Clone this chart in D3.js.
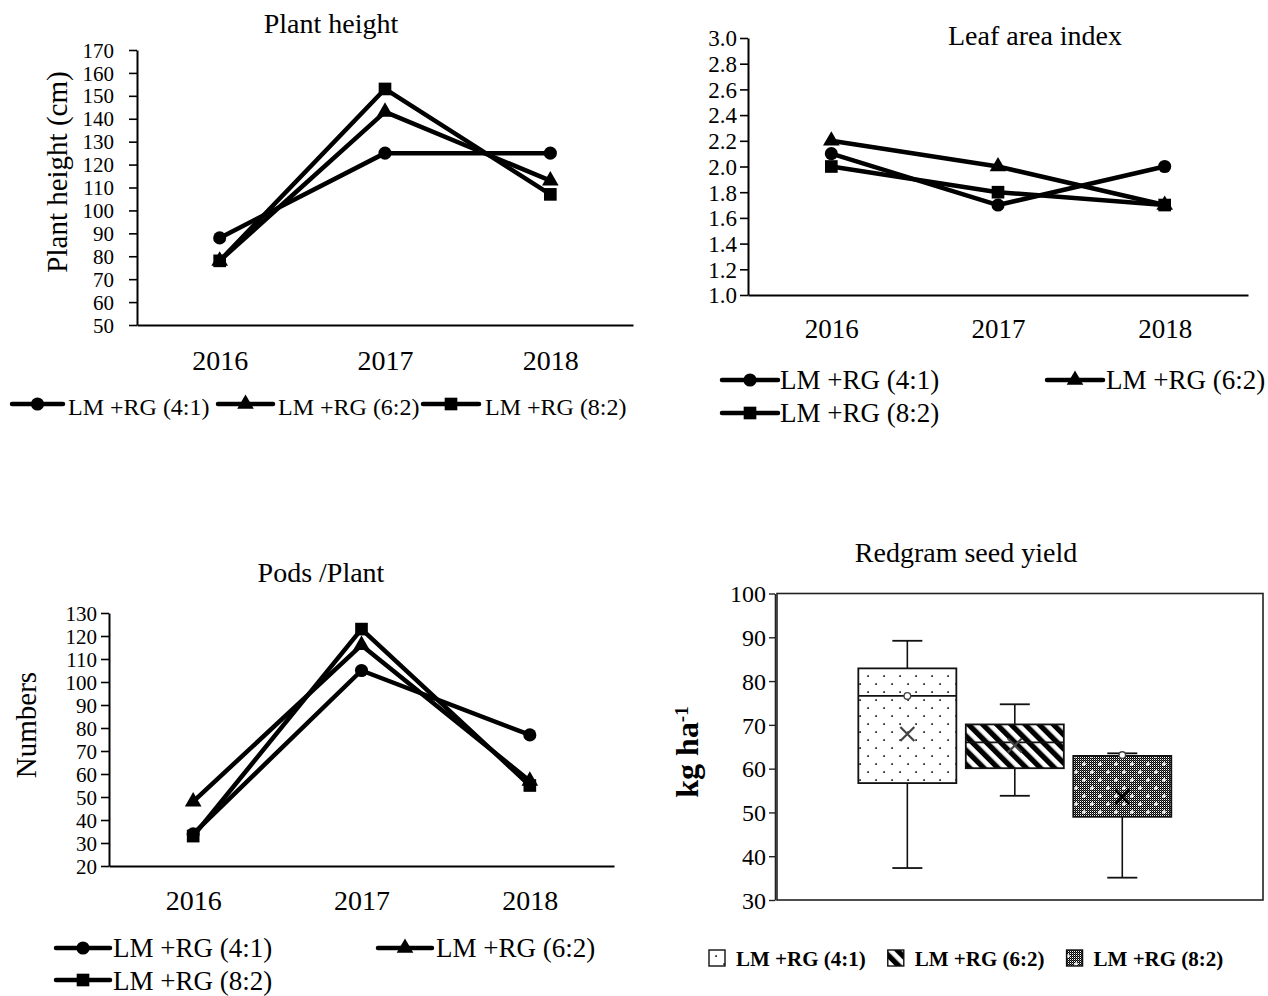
<!DOCTYPE html>
<html><head><meta charset="utf-8">
<script src="https://cdn.jsdelivr.net/npm/d3@7"></script>
<style>
body{margin:0;background:#fff}
svg{display:block}
text{font-family:"Liberation Serif","Times New Roman","DejaVu Serif",serif;fill:#000}
</style>
</head><body>
<svg id="c" width="1268" height="996"></svg>
<script>
// ---------- DATA ----------
const years = ["2016", "2017", "2018"];
const seriesNames = ["LM +RG (4:1)", "LM +RG (6:2)", "LM +RG (8:2)"];

const plantHeight41 = [88, 125, 125];
const plantHeight62 = [78, 143, 113];
const plantHeight82 = [78, 153, 107];
const plantHeightTicks = [50, 60, 70, 80, 90, 100, 110, 120, 130, 140, 150, 160, 170];

const lai41 = [2.1, 1.7, 2.0];
const lai62 = [2.2, 2.0, 1.7];
const lai82 = [2.0, 1.8, 1.7];
const laiTicks = [1.0, 1.2, 1.4, 1.6, 1.8, 2.0, 2.2, 2.4, 2.6, 2.8, 3.0];

const pods41 = [34, 105, 77];
const pods62 = [48, 116, 57];
const pods82 = [33, 123, 55];
const podsTicks = [20, 30, 40, 50, 60, 70, 80, 90, 100, 110, 120, 130];

// Redgram seed yield box plot (kg/ha)
const yieldMin    = [37.3, 53.8, 35.1];
const yieldQ1     = [56.7, 60.1, 49.0];
const yieldMedian = [76.6, 66.0, 62.9];
const yieldQ3     = [82.9, 70.1, 62.9];
const yieldMax    = [89.2, 74.7, 63.5];
const yieldMean   = [67.9, 65.3, 53.6];
const yieldPoints = [[76.6], [], [63.1]];
const yieldTicks  = [30, 40, 50, 60, 70, 80, 90, 100];

// ---------- DRAWING ----------
const svg = d3.select("#c");
const defs = svg.append("defs");

// dotted pattern (4:1)
const pDots = defs.append("pattern").attr("id", "pDots").attr("patternUnits", "userSpaceOnUse")
  .attr("width", 16).attr("height", 16);
pDots.append("rect").attr("width", 16).attr("height", 16).attr("fill", "#fff");
pDots.append("rect").attr("x", 3.3).attr("y", 3.3).attr("width", 1.6).attr("height", 1.6).attr("fill", "#000");
pDots.append("rect").attr("x", 11.3).attr("y", 11.3).attr("width", 1.6).attr("height", 1.6).attr("fill", "#000");

// diagonal stripes (6:2)
const pStr = defs.append("pattern").attr("id", "pStripes").attr("patternUnits", "userSpaceOnUse")
  .attr("width", 10).attr("height", 10).attr("patternTransform", "rotate(-45)");
pStr.append("rect").attr("width", 10).attr("height", 10).attr("fill", "#fff");
pStr.append("rect").attr("width", 5.3).attr("height", 10).attr("fill", "#000");

// dense checker with white crosses (8:2)
const pChk = defs.append("pattern").attr("id", "pChk").attr("patternUnits", "userSpaceOnUse")
  .attr("width", 2).attr("height", 2);
pChk.append("rect").attr("width", 2).attr("height", 2).attr("fill", "#fff");
pChk.append("rect").attr("width", 1).attr("height", 1).attr("fill", "#000");
pChk.append("rect").attr("x", 1).attr("y", 1).attr("width", 1).attr("height", 1).attr("fill", "#000");
pChk.append("rect").attr("x", 1).attr("y", 0).attr("width", 1).attr("height", 1).attr("fill", "#555");
const pDense = defs.append("pattern").attr("id", "pDense").attr("patternUnits", "userSpaceOnUse")
  .attr("width", 16).attr("height", 16);
pDense.append("rect").attr("width", 16).attr("height", 16).attr("fill", "url(#pChk)");
[[4, 4], [12, 12]].forEach(([cx, cy]) => {
  pDense.append("rect").attr("x", cx - 2).attr("y", cy - 0.6).attr("width", 4).attr("height", 1.4).attr("fill", "#fff");
  pDense.append("rect").attr("x", cx - 0.6).attr("y", cy - 2).attr("width", 1.4).attr("height", 4).attr("fill", "#fff");
});

const markerTypes = [d3.symbolCircle, d3.symbolTriangle, d3.symbolSquare];
const markerSizes = [135, 120, 160];

function lineChart(o) {
  const g = svg.append("g");
  const x = d3.scalePoint().domain(years).range([o.x0, o.x1]).padding(0.5);
  const y = d3.scaleLinear().domain(o.domain).range([o.yBot, o.yTop]);

  const ya = g.append("g").attr("transform", `translate(${o.x0},0)`)
    .call(d3.axisLeft(y).tickValues(o.ticks).tickFormat(o.fmt)
      .tickSizeInner(8).tickSizeOuter(0).tickPadding(o.tickPad));
  ya.select(".domain").attr("stroke-width", 2);
  ya.selectAll(".tick line").attr("stroke-width", 1.6);
  ya.selectAll(".tick text").attr("font-size", o.tickSize).attr("font-family", null).attr("dy", "0.34em");

  const xa = g.append("g").attr("transform", `translate(0,${o.yBot})`)
    .call(d3.axisBottom(x).tickSize(0).tickSizeOuter(0));
  xa.select(".domain").attr("stroke-width", 2);
  xa.selectAll(".tick text").attr("font-size", o.xlabSize).attr("font-family", null)
    .attr("dy", null).attr("y", o.xlabDy);

  const line = d3.line().x((d, i) => x(years[i])).y(d => y(d));
  o.series.forEach((s, k) => {
    g.append("path").datum(s).attr("d", line).attr("fill", "none")
      .attr("stroke", "#000").attr("stroke-width", 4.5).attr("stroke-linejoin", "round");
  });
  o.series.forEach((s, k) => {
    g.selectAll(null).data(s).enter().append("path")
      .attr("d", d3.symbol().type(markerTypes[k]).size(markerSizes[k]))
      .attr("transform", (d, i) => `translate(${x(years[i])},${y(d)})`)
      .attr("fill", "#000");
  });

  g.append("text").attr("x", o.titleX).attr("y", o.titleY).attr("text-anchor", "middle")
    .attr("font-size", o.titleSize).text(o.title);
  if (o.ylabel) {
    g.append("text").attr("transform", `translate(${o.ylabX},${o.ylabY}) rotate(-90)`)
      .attr("text-anchor", "middle").attr("dominant-baseline", "central")
      .attr("font-size", o.ylabSize).text(o.ylabel);
  }
  o.legend.forEach((L, k) => {
    g.append("line").attr("x1", L.lx).attr("x2", L.lx + L.len).attr("y1", L.ly).attr("y2", L.ly)
      .attr("stroke", "#000").attr("stroke-width", 4.5).attr("stroke-linecap", "round");
    g.append("path").attr("d", d3.symbol().type(markerTypes[k]).size(markerSizes[k]))
      .attr("transform", `translate(${L.lx + L.len / 2},${L.ly})`).attr("fill", "#000");
    g.append("text").attr("x", L.tx).attr("y", L.ty).attr("font-size", o.legendSize).text(seriesNames[k]);
  });
}

// Plant height
lineChart({
  x0: 137, x1: 633, yTop: 50, yBot: 325, domain: [50, 170], ticks: plantHeightTicks, fmt: d3.format("d"),
  tickPad: 15, tickSize: 21, xlabSize: 28, xlabDy: 45,
  series: [plantHeight41, plantHeight62, plantHeight82],
  title: "Plant height", titleX: 331, titleY: 33, titleSize: 28,
  ylabel: "Plant height (cm)", ylabX: 57, ylabY: 172, ylabSize: 29,
  legendSize: 24,
  legend: [
    {lx: 12, len: 51, ly: 404, tx: 68, ty: 415},
    {lx: 218, len: 55, ly: 404, tx: 278, ty: 415},
    {lx: 423, len: 56, ly: 404, tx: 485, ty: 415}
  ]
});

// Leaf area index
lineChart({
  x0: 748, x1: 1248, yTop: 38, yBot: 295, domain: [1.0, 3.0], ticks: laiTicks, fmt: d3.format(".1f"),
  tickPad: 3, tickSize: 23, xlabSize: 27, xlabDy: 43,
  series: [lai41, lai62, lai82],
  title: "Leaf area index", titleX: 1035, titleY: 45, titleSize: 28,
  ylabel: null,
  legendSize: 27,
  legend: [
    {lx: 722, len: 56, ly: 380, tx: 780, ty: 389},
    {lx: 1047, len: 56, ly: 380, tx: 1106, ty: 389},
    {lx: 722, len: 56, ly: 413, tx: 780, ty: 422}
  ]
});

// Pods / Plant
lineChart({
  x0: 109, x1: 614, yTop: 613, yBot: 866, domain: [20, 130], ticks: podsTicks, fmt: d3.format("d"),
  tickPad: 4, tickSize: 21, xlabSize: 28, xlabDy: 44,
  series: [pods41, pods62, pods82],
  title: "Pods /Plant", titleX: 321, titleY: 582, titleSize: 28,
  ylabel: "Numbers", ylabX: 26, ylabY: 725, ylabSize: 29,
  legendSize: 27,
  legend: [
    {lx: 56, len: 54, ly: 948, tx: 113, ty: 957},
    {lx: 378, len: 54, ly: 948, tx: 436, ty: 957},
    {lx: 56, len: 54, ly: 980, tx: 113, ty: 990}
  ]
});

// ---------- Box plot: Redgram seed yield ----------
(function () {
  const g = svg.append("g");
  const left = 777, right = 1263, top = 593.5;
  const y = d3.scaleLinear().domain([30, 100]).range([900, top]);
  const x = d3.scaleBand().domain(seriesNames).range([left, right])
    .paddingInner(0.088).paddingOuter(0.805).align(0.47);
  const fills = ["url(#pDots)", "url(#pStripes)", "url(#pDense)"];

  // plot border
  g.append("rect").attr("x", left).attr("y", y(100)).attr("width", right - left).attr("height", y(30) - y(100))
    .attr("fill", "#fff").attr("stroke", "#222").attr("stroke-width", 1.6);
  const ya = g.append("g").attr("transform", `translate(${left - 2},0)`)
    .call(d3.axisLeft(y).tickValues(yieldTicks).tickFormat(d3.format("d")).tickSizeInner(6).tickSizeOuter(0).tickPadding(3));
  ya.select(".domain").attr("stroke-width", 1.6).attr("stroke", "#222");
  ya.selectAll(".tick line").attr("stroke-width", 1.4).attr("stroke", "#222");
  ya.selectAll(".tick text").attr("font-size", 24).attr("font-family", null).attr("dy", "0.34em").attr("fill", "#222");

  seriesNames.forEach((s, i) => {
    const cx = x(s) + x.bandwidth() / 2;
    const bw = x.bandwidth();
    // whiskers
    g.append("line").attr("x1", cx).attr("x2", cx).attr("y1", y(yieldQ3[i])).attr("y2", y(yieldMax[i]))
      .attr("stroke", "#111").attr("stroke-width", 1.6);
    g.append("line").attr("x1", cx).attr("x2", cx).attr("y1", y(yieldQ1[i])).attr("y2", y(yieldMin[i]))
      .attr("stroke", "#111").attr("stroke-width", 1.6);
    [yieldMax[i], yieldMin[i]].forEach(v => {
      g.append("line").attr("x1", cx - 15).attr("x2", cx + 15).attr("y1", y(v)).attr("y2", y(v))
        .attr("stroke", "#111").attr("stroke-width", 1.8);
    });
    // box
    g.append("rect").attr("x", x(s)).attr("y", y(yieldQ3[i])).attr("width", bw)
      .attr("height", y(yieldQ1[i]) - y(yieldQ3[i]))
      .attr("fill", fills[i]).attr("stroke", "#111").attr("stroke-width", 1.8);
    // median
    g.append("line").attr("x1", x(s)).attr("x2", x(s) + bw).attr("y1", y(yieldMedian[i])).attr("y2", y(yieldMedian[i]))
      .attr("stroke", "#111").attr("stroke-width", 1.8);
    // inner points
    yieldPoints[i].forEach(v => {
      g.append("circle").attr("cx", cx).attr("cy", y(v)).attr("r", 3.3)
        .attr("fill", "#fff").attr("stroke", "#444").attr("stroke-width", 1.4);
    });
    // mean X
    const my = y(yieldMean[i]);
    g.append("path").attr("d", `M${cx - 7},${my - 7}L${cx + 7},${my + 7}M${cx - 7},${my + 7}L${cx + 7},${my - 7}`)
      .attr("stroke", i === 2 ? "#000" : "#444").attr("stroke-width", 2.2).attr("fill", "none");
  });

  g.append("text").attr("x", 966).attr("y", 562).attr("text-anchor", "middle")
    .attr("font-size", 28).attr("fill", "#222").text("Redgram seed yield");

  const yl = g.append("text").attr("transform", "translate(698,752) rotate(-90)")
    .attr("text-anchor", "middle").attr("font-size", 32).attr("font-weight", "bold").attr("fill", "#111");
  yl.append("tspan").text("kg ha");
  yl.append("tspan").attr("baseline-shift", "super").attr("font-size", 19).text("-1");

  // legend
  let lx = 709;
  seriesNames.forEach((s, i) => {
    g.append("rect").attr("x", lx).attr("y", 950).attr("width", 16).attr("height", 16)
      .attr("fill", fills[i]).attr("stroke", "#111").attr("stroke-width", 1.4);
    const t = g.append("text").attr("x", lx + 27).attr("y", 966).attr("font-size", 21)
      .attr("font-weight", "bold").attr("fill", "#222").text(s);
    lx += 27 + t.node().getComputedTextLength() + 22;
  });
})();
</script>
</body></html>
